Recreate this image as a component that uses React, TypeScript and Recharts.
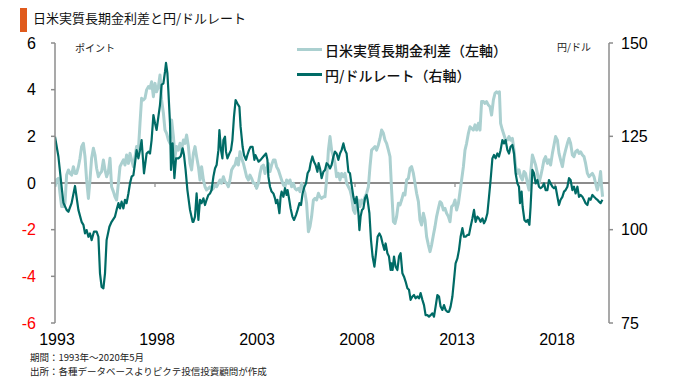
import React from "react"
import {
  LineChart,
  Line,
  XAxis,
  YAxis,
  ReferenceLine,
  Legend,
} from "recharts"

// 日米実質長期金利差（ポイント, 左軸）[年, 値]
const spreadPoints: [number, number][] = [
  [1993.0, -0.16], [1993.08, 0.13], [1993.17, 0.2], [1993.25, -0.44], [1993.33, -1.01], [1993.42, -1.01],
  [1993.5, -0.87], [1993.58, 0.34], [1993.67, 0.56], [1993.75, 0.41], [1993.83, 0.34], [1993.92, 0.7],
  [1994.0, 0.41], [1994.08, 0.41], [1994.17, 0.7], [1994.25, 1.06], [1994.33, 1.56], [1994.42, 1.7],
  [1994.5, 1.13], [1994.58, 0.13], [1994.67, -0.66], [1994.75, 0.13], [1994.83, 1.06], [1994.92, 1.49],
  [1995.0, 1.2], [1995.08, 0.63], [1995.17, 0.27], [1995.25, 0.41], [1995.33, 0.49], [1995.42, 0.99],
  [1995.5, 0.56], [1995.58, 0.27], [1995.67, 0.49], [1995.75, 1.06], [1995.83, -0.16], [1995.92, -0.37],
  [1996.0, -0.59], [1996.08, -0.73], [1996.17, -0.01], [1996.25, 0.7], [1996.33, 0.84], [1996.42, 0.99],
  [1996.5, 0.77], [1996.58, 1.2], [1996.67, 0.84], [1996.75, 1.27], [1996.83, 0.99], [1996.92, 0.7],
  [1997.0, 1.13], [1997.08, 1.56], [1997.17, 1.41], [1997.25, 2.56], [1997.33, 3.63], [1997.42, 3.56],
  [1997.5, 3.63], [1997.58, 3.99], [1997.67, 4.13], [1997.75, 4.06], [1997.83, 4.34], [1997.92, 3.7],
  [1998.0, 4.27], [1998.08, 3.91], [1998.17, 4.13], [1998.25, 4.63], [1998.33, 3.56], [1998.42, 2.99],
  [1998.5, 2.27], [1998.58, 2.13], [1998.67, 1.84], [1998.75, 1.7], [1998.83, 2.7], [1998.92, 1.99],
  [1999.0, 1.13], [1999.08, 1.56], [1999.17, 1.41], [1999.25, 1.7], [1999.33, 1.41], [1999.42, 1.84],
  [1999.5, 1.7], [1999.58, 2.06], [1999.67, 1.56], [1999.75, 0.84], [1999.83, 0.56], [1999.92, 1.27],
  [2000.0, 1.56], [2000.08, 1.13], [2000.17, 0.7], [2000.25, 0.13], [2000.33, 0.7], [2000.42, 0.13],
  [2000.5, -0.16], [2000.58, -0.3], [2000.67, -0.23], [2000.75, -0.16], [2000.83, -0.3], [2000.92, -0.23],
  [2001.0, -0.09], [2001.08, -0.16], [2001.17, -0.01], [2001.25, 0.13], [2001.33, -0.01], [2001.42, 0.27],
  [2001.5, 0.06], [2001.58, -0.01], [2001.67, -0.16], [2001.75, 0.13], [2001.83, 0.56], [2001.92, 0.7],
  [2002.0, 0.77], [2002.08, 1.06], [2002.17, 0.77], [2002.25, 1.34], [2002.33, 1.06], [2002.42, 0.84],
  [2002.5, 0.56], [2002.58, 0.27], [2002.67, 0.13], [2002.75, 0.34], [2002.83, 0.2], [2002.92, -0.01],
  [2003.0, -0.01], [2003.08, -0.23], [2003.17, -0.01], [2003.25, 0.41], [2003.33, 0.7], [2003.42, 0.77],
  [2003.5, 0.41], [2003.58, 0.63], [2003.67, 0.84], [2003.75, 0.49], [2003.83, 0.77], [2003.92, 0.99],
  [2004.0, 0.99], [2004.08, 0.7], [2004.17, 0.56], [2004.25, 0.34], [2004.33, 0.13], [2004.42, -0.09],
  [2004.5, -0.16], [2004.58, 0.13], [2004.67, -0.01], [2004.75, 0.13], [2004.83, -0.16], [2004.92, -0.01],
  [2005.0, -0.23], [2005.08, -0.3], [2005.17, -0.23], [2005.25, -0.37], [2005.33, -0.01], [2005.42, -0.23],
  [2005.5, -0.44], [2005.58, -0.87], [2005.67, -2.09], [2005.75, -1.87], [2005.83, -1.44], [2005.92, -0.73],
  [2006.0, -0.66], [2006.08, -0.73], [2006.17, -0.44], [2006.25, -0.59], [2006.33, -0.66], [2006.42, -0.59],
  [2006.5, -0.59], [2006.58, 0.13], [2006.67, 1.41], [2006.75, 1.99], [2006.83, 1.41], [2006.92, 1.13],
  [2007.0, 0.84], [2007.08, 0.27], [2007.17, 0.41], [2007.25, 0.13], [2007.33, 0.41], [2007.42, 0.27],
  [2007.5, 0.41], [2007.58, -0.01], [2007.67, -0.16], [2007.75, -0.3], [2007.83, -0.59], [2007.92, -1.16],
  [2008.0, -1.3], [2008.08, -0.87], [2008.17, -0.73], [2008.25, -1.01], [2008.33, -0.73], [2008.42, -0.87],
  [2008.5, -0.59], [2008.58, -0.44], [2008.67, -0.16], [2008.75, 0.7], [2008.83, 1.41], [2008.92, 1.49],
  [2009.0, 1.56], [2009.08, 1.41], [2009.17, 1.63], [2009.25, 1.91], [2009.33, 2.27], [2009.42, 2.13],
  [2009.5, 1.84], [2009.58, 1.7], [2009.67, 1.41], [2009.75, 1.13], [2009.83, -0.3], [2009.92, -1.66],
  [2010.0, -1.73], [2010.08, -1.44], [2010.17, -0.87], [2010.25, -0.94], [2010.33, -0.73], [2010.42, -0.44],
  [2010.5, -0.51], [2010.58, 0.13], [2010.67, 0.2], [2010.75, 0.63], [2010.83, 0.7], [2010.92, 0.41],
  [2011.0, -0.01], [2011.08, -0.44], [2011.17, -0.8], [2011.25, -1.59], [2011.33, -1.8], [2011.42, -1.3],
  [2011.5, -1.59], [2011.58, -2.3], [2011.67, -2.66], [2011.75, -2.94], [2011.83, -2.66], [2011.92, -2.23],
  [2012.0, -1.87], [2012.08, -1.44], [2012.17, -1.09], [2012.25, -0.8], [2012.33, -0.87], [2012.42, -1.16],
  [2012.5, -1.09], [2012.58, -1.3], [2012.67, -1.44], [2012.75, -1.66], [2012.83, -1.01], [2012.92, -0.94],
  [2013.0, -0.73], [2013.08, -1.16], [2013.17, -0.87], [2013.25, -0.37], [2013.33, 0.13], [2013.42, 0.7],
  [2013.5, 1.41], [2013.58, 1.7], [2013.67, 2.13], [2013.75, 2.41], [2013.83, 2.34], [2013.92, 2.27],
  [2014.0, 2.49], [2014.08, 2.27], [2014.17, 2.56], [2014.25, 2.27], [2014.33, 3.49], [2014.42, 3.49],
  [2014.5, 3.41], [2014.58, 3.49], [2014.67, 3.34], [2014.75, 3.27], [2014.83, 2.91], [2014.92, 3.56],
  [2015.0, 3.84], [2015.08, 3.91], [2015.17, 3.84], [2015.22, 3.91], [2015.28, 2.56], [2015.37, 2.27],
  [2015.45, 2.06], [2015.53, 1.84], [2015.62, 1.84], [2015.7, 1.99], [2015.78, 1.84], [2015.87, 1.91],
  [2015.95, 1.41], [2016.03, 0.7], [2016.12, 0.41], [2016.2, 0.56], [2016.28, 0.27], [2016.37, 0.13],
  [2016.45, 0.49], [2016.53, 0.41], [2016.62, -0.01], [2016.7, -0.3], [2016.78, 0.41], [2016.87, 1.2],
  [2016.95, 0.99], [2017.03, 0.77], [2017.12, 0.41], [2017.2, -0.01], [2017.28, 0.27], [2017.37, 0.63],
  [2017.45, 0.99], [2017.53, 1.13], [2017.62, 0.84], [2017.7, 0.99], [2017.78, 0.77], [2017.87, 1.27],
  [2017.95, 1.63], [2018.03, 1.99], [2018.12, 1.84], [2018.2, 1.27], [2018.28, 0.99], [2018.37, 0.7],
  [2018.45, 1.13], [2018.53, 1.41], [2018.62, 1.7], [2018.7, 1.91], [2018.78, 1.7], [2018.87, 1.2],
  [2018.95, 1.13], [2019.03, 1.34], [2019.12, 1.41], [2019.2, 1.27], [2019.28, 1.34], [2019.37, 1.2],
  [2019.45, 1.13], [2019.53, 0.84], [2019.62, 0.41], [2019.7, 0.27], [2019.78, 0.34], [2019.87, 0.41],
  [2019.95, 0.27], [2020.03, -0.01], [2020.12, -0.3], [2020.2, -0.01], [2020.28, 0.49], [2020.33, -0.16],
  [2020.38, -0.59],
]

// 円/ドルレート（円, 右軸）[年, 値]
const fxPoints: [number, number][] = [
  [1993.0, 124.9], [1993.17, 119.6], [1993.33, 111.5], [1993.42, 107.2], [1993.58, 105.3], [1993.67, 104.8],
  [1993.83, 107.1], [1994.0, 111.7], [1994.17, 105.3], [1994.33, 102.1], [1994.42, 101.3], [1994.5, 99.0],
  [1994.58, 99.9], [1994.67, 98.1], [1994.75, 99.0], [1994.83, 97.2], [1994.95, 99.5], [1995.08, 99.5],
  [1995.17, 98.1], [1995.25, 88.3], [1995.33, 84.7], [1995.42, 84.3], [1995.5, 88.3], [1995.58, 97.2],
  [1995.72, 100.8], [1995.83, 102.1], [1996.0, 103.5], [1996.08, 105.3], [1996.17, 107.1], [1996.25, 105.7],
  [1996.33, 107.5], [1996.42, 105.7], [1996.5, 108.0], [1996.58, 107.1], [1996.67, 109.7], [1996.75, 112.4],
  [1996.83, 114.2], [1996.92, 114.6], [1997.0, 117.8], [1997.08, 121.3], [1997.17, 119.1], [1997.25, 121.3],
  [1997.33, 124.0], [1997.45, 115.1], [1997.58, 120.4], [1997.67, 120.9], [1997.75, 120.4], [1997.83, 124.0],
  [1997.92, 130.7], [1998.0, 128.5], [1998.08, 126.7], [1998.17, 130.3], [1998.25, 133.4], [1998.33, 138.8],
  [1998.42, 139.2], [1998.5, 142.3], [1998.55, 144.7], [1998.62, 141.9], [1998.67, 137.0], [1998.75, 128.5],
  [1998.8, 116.0], [1998.88, 123.1], [1998.97, 113.8], [1999.05, 119.1], [1999.17, 119.1], [1999.28, 119.6],
  [1999.38, 121.8], [1999.45, 120.0], [1999.53, 116.0], [1999.62, 110.6], [1999.75, 105.3], [1999.88, 102.1],
  [1999.92, 102.1], [2000.0, 103.5], [2000.08, 109.7], [2000.17, 102.6], [2000.25, 108.0], [2000.33, 107.1],
  [2000.42, 108.4], [2000.5, 106.6], [2000.58, 108.0], [2000.67, 109.3], [2000.75, 109.7], [2000.83, 110.6],
  [2000.92, 114.2], [2001.0, 116.4], [2001.08, 117.3], [2001.17, 121.3], [2001.22, 126.7], [2001.3, 121.3],
  [2001.37, 119.1], [2001.42, 124.0], [2001.5, 124.9], [2001.55, 120.9], [2001.62, 119.1], [2001.72, 120.4],
  [2001.8, 121.3], [2001.87, 124.0], [2001.95, 130.3], [2002.03, 134.7], [2002.12, 133.8], [2002.22, 132.9],
  [2002.28, 127.6], [2002.38, 122.2], [2002.45, 120.0], [2002.55, 118.7], [2002.62, 120.0], [2002.7, 121.3],
  [2002.78, 122.2], [2002.88, 122.2], [2002.97, 118.7], [2003.02, 120.0], [2003.1, 119.1], [2003.18, 118.2],
  [2003.28, 118.7], [2003.42, 119.6], [2003.55, 120.4], [2003.62, 118.7], [2003.67, 114.2], [2003.75, 111.5],
  [2003.83, 110.2], [2003.92, 109.7], [2004.0, 108.4], [2004.05, 107.1], [2004.12, 108.0], [2004.22, 104.4],
  [2004.28, 108.8], [2004.33, 110.2], [2004.42, 108.8], [2004.5, 111.1], [2004.58, 109.3], [2004.63, 110.6],
  [2004.7, 108.4], [2004.78, 105.7], [2004.87, 103.5], [2004.95, 102.6], [2005.05, 103.9], [2005.13, 105.3],
  [2005.22, 107.1], [2005.3, 106.6], [2005.38, 109.7], [2005.47, 111.5], [2005.55, 112.4], [2005.63, 115.1],
  [2005.72, 116.0], [2005.78, 117.8], [2005.87, 119.6], [2005.95, 118.2], [2006.03, 117.3], [2006.12, 115.5],
  [2006.18, 117.8], [2006.25, 116.4], [2006.33, 113.8], [2006.42, 115.5], [2006.5, 116.0], [2006.58, 117.8],
  [2006.67, 117.3], [2006.75, 116.4], [2006.83, 117.3], [2006.92, 119.6], [2007.0, 120.9], [2007.08, 120.4],
  [2007.17, 118.7], [2007.25, 120.4], [2007.33, 121.3], [2007.42, 123.1], [2007.5, 121.3], [2007.58, 120.4],
  [2007.67, 115.5], [2007.75, 115.1], [2007.83, 112.0], [2007.92, 108.8], [2008.0, 107.1], [2008.08, 108.8],
  [2008.17, 104.4], [2008.22, 99.9], [2008.28, 103.5], [2008.35, 105.3], [2008.42, 105.7], [2008.5, 108.4],
  [2008.58, 109.3], [2008.63, 108.0], [2008.72, 104.4], [2008.8, 97.2], [2008.88, 92.8], [2008.97, 90.1],
  [2009.05, 93.7], [2009.13, 98.1], [2009.22, 99.0], [2009.3, 98.1], [2009.38, 96.3], [2009.47, 94.6],
  [2009.53, 96.3], [2009.62, 93.7], [2009.7, 92.8], [2009.78, 89.2], [2009.83, 91.0], [2009.88, 89.2],
  [2009.95, 92.8], [2010.03, 90.1], [2010.12, 89.2], [2010.2, 92.8], [2010.28, 93.7], [2010.37, 88.3],
  [2010.45, 87.4], [2010.53, 86.1], [2010.62, 84.3], [2010.7, 83.9], [2010.78, 81.2], [2010.87, 82.1],
  [2010.95, 82.5], [2011.03, 81.6], [2011.12, 82.1], [2011.2, 81.6], [2011.28, 83.0], [2011.37, 81.2],
  [2011.45, 79.8], [2011.53, 77.1], [2011.62, 77.1], [2011.7, 76.7], [2011.78, 77.1], [2011.87, 77.6],
  [2011.95, 76.7], [2012.03, 79.4], [2012.12, 82.5], [2012.2, 82.1], [2012.28, 79.4], [2012.37, 78.5],
  [2012.45, 79.8], [2012.53, 78.5], [2012.62, 78.0], [2012.7, 78.0], [2012.78, 79.4], [2012.87, 82.1],
  [2012.95, 86.5], [2013.03, 91.0], [2013.12, 92.3], [2013.2, 94.6], [2013.28, 98.1], [2013.37, 100.4],
  [2013.45, 98.1], [2013.53, 98.1], [2013.62, 98.6], [2013.7, 98.6], [2013.78, 100.8], [2013.87, 103.0],
  [2013.95, 105.3], [2014.03, 102.1], [2014.12, 103.5], [2014.2, 103.0], [2014.28, 102.1], [2014.37, 103.0],
  [2014.45, 101.7], [2014.53, 102.6], [2014.62, 104.4], [2014.7, 108.8], [2014.78, 113.3], [2014.87, 119.1],
  [2014.95, 120.0], [2015.03, 119.1], [2015.12, 120.4], [2015.2, 119.6], [2015.28, 121.3], [2015.37, 124.0],
  [2015.45, 123.1], [2015.53, 124.0], [2015.62, 121.3], [2015.7, 120.4], [2015.78, 122.2], [2015.87, 122.7],
  [2015.95, 120.4], [2016.03, 115.1], [2016.12, 112.4], [2016.2, 111.5], [2016.25, 107.1], [2016.33, 110.2],
  [2016.38, 106.2], [2016.47, 102.6], [2016.55, 102.1], [2016.63, 102.6], [2016.72, 101.3], [2016.78, 106.2],
  [2016.87, 116.0], [2016.95, 115.1], [2017.03, 112.4], [2017.12, 113.3], [2017.2, 111.5], [2017.28, 111.1],
  [2017.37, 111.5], [2017.45, 112.4], [2017.53, 110.6], [2017.62, 110.6], [2017.7, 113.3], [2017.78, 112.4],
  [2017.87, 111.5], [2017.95, 111.1], [2018.03, 111.5], [2018.12, 108.8], [2018.2, 106.6], [2018.28, 108.0],
  [2018.37, 108.8], [2018.45, 110.2], [2018.53, 110.6], [2018.62, 111.5], [2018.7, 113.8], [2018.78, 113.3],
  [2018.87, 110.6], [2018.95, 111.5], [2019.03, 109.7], [2019.12, 111.5], [2019.2, 108.8], [2019.28, 109.3],
  [2019.37, 108.8], [2019.45, 108.0], [2019.53, 107.1], [2019.62, 106.6], [2019.7, 108.4], [2019.78, 108.0],
  [2019.87, 109.3], [2019.95, 108.8], [2020.03, 108.4], [2020.12, 108.0], [2020.2, 107.5], [2020.28, 107.1],
  [2020.37, 108.0],
]

const yearTicks = [1993, 1998, 2003, 2008, 2013, 2018]
const leftTicks = [-6, -4, -2, 0, 2, 4, 6]
const rightTicks = [75, 100, 125, 150]

const spreadName = "日米実質長期金利差（左軸）"
const fxName = "円/ドルレート（右軸）"

const lightColor = "#abd0d0"
const darkColor = "#006b66"
const axisGray = "#8c8c8c"
const numFont = "'Liberation Sans Narrow', 'Arial Narrow', 'Liberation Sans', sans-serif"
const jpFont = "'Noto Sans CJK JP', sans-serif"

const rows = [
  ...spreadPoints.map(([t, v]) => ({ t, spread: v })),
  ...fxPoints.map(([t, v]) => ({ t, fx: v })),
].sort((a, b) => a.t - b.t)

const LeftTick = ({ x, y, payload }: any) => (
  <text
    x={x}
    y={y}
    dy={5.5}
    textAnchor="end"
    fontSize={16}
    fontFamily={numFont}
    fill={payload.value < 0 ? "#ff0000" : "#000"}
  >
    {payload.value}
  </text>
)

const RightTick = ({ x, y, payload }: any) => (
  <text x={x} y={y} dy={5.5} textAnchor="start" fontSize={16} fontFamily={numFont} fill="#000">
    {payload.value}
  </text>
)

const YearTick = ({ x, y, payload }: any) => (
  <text x={x + 2} y={y + 22} textAnchor="middle" fontSize={16} fontFamily={numFont} fill="#000">
    {payload.value}
  </text>
)

const LegendBox = () => (
  <div style={{ fontFamily: jpFont, fontSize: 14, fontWeight: 500, color: "#111" }}>
    {[
      { name: spreadName, color: lightColor, w: 3 },
      { name: fxName, color: darkColor, w: 2.5 },
    ].map((it) => (
      <div key={it.name} style={{ display: "flex", alignItems: "center", height: 25 }}>
        <div style={{ width: 25, height: it.w, background: it.color, marginRight: 3 }} />
        <span>{it.name}</span>
      </div>
    ))}
  </div>
)

export default function App() {
  return (
    <div style={{ position: "absolute", left: 0, top: 0, width: 680, height: 380, background: "#fff" }}>
      <div style={{ position: "absolute", left: 20, top: 8, width: 7, height: 24, background: "#e05a1c" }} />
      <div
        style={{
          position: "absolute",
          left: 33,
          top: 10,
          fontFamily: jpFont,
          fontSize: 13,
          lineHeight: "16px",
          color: "#111",
        }}
      >
        日米実質長期金利差と円/ドルレート
      </div>
      <div style={{ position: "absolute", left: 75, top: 40, fontFamily: jpFont, fontSize: 10, color: "#222" }}>
        ポイント
      </div>
      <div style={{ position: "absolute", left: 557, top: 39, fontFamily: jpFont, fontSize: 10, color: "#222" }}>
        円/ドル
      </div>

      <LineChart width={680} height={380} data={rows} margin={{ top: 43, right: 21, bottom: 37, left: 15 }}>
        <XAxis
          dataKey="t"
          type="number"
          domain={[1993, 2020.7]}
          ticks={yearTicks}
          axisLine={false}
          tickLine={false}
          tickSize={0}
          tickMargin={0}
          height={20}
          tick={<YearTick />}
          allowDataOverflow
        />
        <YAxis
          yAxisId="left"
          domain={[-6, 6]}
          ticks={leftTicks}
          width={40}
          axisLine={{ stroke: axisGray, strokeWidth: 1.5 }}
          tickLine={{ stroke: axisGray, strokeWidth: 1.5 }}
          tickSize={4}
          tickMargin={15}
          tick={<LeftTick />}
          interval={0}
        />
        <YAxis
          yAxisId="right"
          orientation="right"
          domain={[75, 150]}
          ticks={rightTicks}
          width={50}
          axisLine={{ stroke: axisGray, strokeWidth: 1.5 }}
          tickLine={{ stroke: axisGray, strokeWidth: 1.5 }}
          tickSize={4}
          tickMargin={8}
          tick={<RightTick />}
          interval={0}
        />
        <ReferenceLine yAxisId="left" y={0} stroke={axisGray} strokeWidth={2} />
        {yearTicks.slice(1).map((yr) => (
          <ReferenceLine
            key={yr}
            yAxisId="left"
            segment={[
              { x: yr, y: 0 },
              { x: yr, y: -0.17 },
            ]}
            stroke={axisGray}
            strokeWidth={1.2}
          />
        ))}
        <Line
          yAxisId="left"
          dataKey="spread"
          name={spreadName}
          stroke={lightColor}
          strokeWidth={3}
          dot={false}
          connectNulls
          strokeLinejoin="round"
          isAnimationActive={false}
        />
        <Line
          yAxisId="right"
          dataKey="fx"
          name={fxName}
          stroke={darkColor}
          strokeWidth={2.2}
          dot={false}
          connectNulls
          strokeLinejoin="round"
          isAnimationActive={false}
        />
        <Legend
          layout="vertical"
          align="center"
          verticalAlign="middle"
          wrapperStyle={{ left: 297, top: 37, width: 240 }}
          content={<LegendBox />}
        />
      </LineChart>

      <div
        style={{
          position: "absolute",
          left: 30,
          top: 350,
          fontFamily: jpFont,
          fontSize: 9.5,
          lineHeight: "14px",
          color: "#222",
        }}
      >
        <div>期間：1993年～2020年5月</div>
        <div>出所：各種データベースよりピクテ投信投資顧問が作成</div>
      </div>
    </div>
  )
}
